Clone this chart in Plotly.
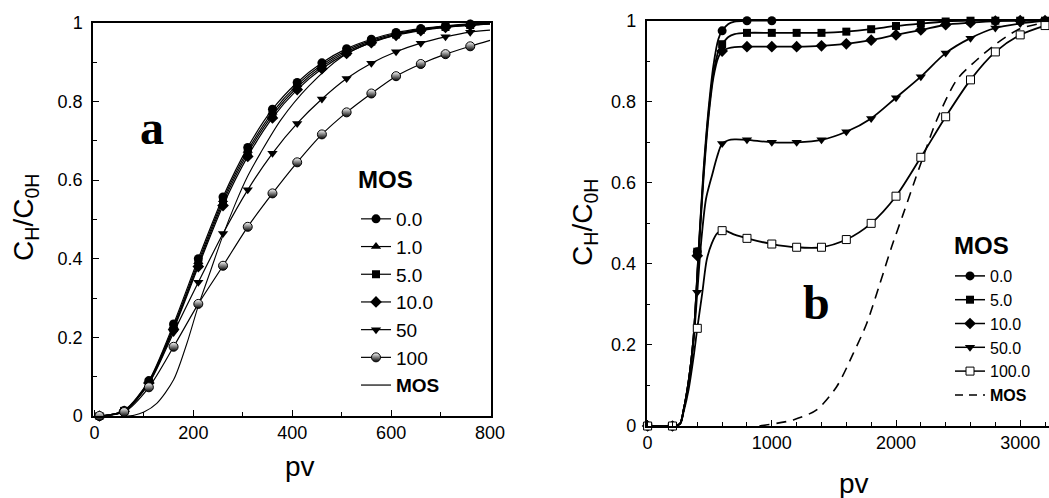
import plotly.graph_objects as go

# ---------------- Panel a data ----------------
pv_a = [10, 60, 110, 160, 210, 260, 310, 360, 410, 460, 510, 560, 610, 660, 710, 760]
mos0_a = [0, 0.014, 0.090, 0.234, 0.400, 0.557, 0.683, 0.780, 0.848, 0.898, 0.934, 0.958, 0.975, 0.985, 0.992, 0.997]
mos1_a = [0, 0.013, 0.088, 0.228, 0.392, 0.550, 0.675, 0.772, 0.842, 0.893, 0.930, 0.955, 0.972, 0.983, 0.990, 0.995]
mos5_a = [0, 0.013, 0.086, 0.224, 0.386, 0.543, 0.668, 0.765, 0.836, 0.888, 0.926, 0.952, 0.970, 0.982, 0.989, 0.994]
mos10_a = [0, 0.012, 0.084, 0.220, 0.380, 0.535, 0.660, 0.758, 0.830, 0.883, 0.922, 0.949, 0.968, 0.980, 0.988, 0.993]
mos50_a = [0, 0.012, 0.082, 0.212, 0.340, 0.464, 0.575, 0.668, 0.744, 0.806, 0.858, 0.897, 0.926, 0.948, 0.964, 0.976]
mos100_a = [0, 0.010, 0.073, 0.176, 0.285, 0.382, 0.481, 0.566, 0.645, 0.716, 0.772, 0.820, 0.864, 0.895, 0.920, 0.940]
# fitted-curve end values at pv = 800
pv_a_end = 800
end_a = {"0.0": 0.999, "1.0": 0.998, "5.0": 0.997, "10.0": 0.996, "50": 0.981, "100": 0.955}
# MOS-only curve, panel a
mosline_a_x = [60, 80, 100, 126, 160, 187, 210, 235, 260, 285, 310, 336, 377, 433, 500, 560, 620, 700, 800]
mosline_a_y = [0, 0.002, 0.010, 0.032, 0.092, 0.185, 0.280, 0.370, 0.460, 0.540, 0.610, 0.669, 0.753, 0.838, 0.913, 0.950, 0.972, 0.990, 0.998]

# ---------------- Panel b data ----------------
pv_b = [0, 200, 400, 600, 800, 1000, 1200, 1400, 1600, 1800, 2000, 2200, 2400, 2600, 2800, 3000, 3200]
pv_b0 = [0, 200, 400, 600, 800, 1000]
mos0_b = [0, 0, 0.43, 0.975, 1.0, 1.0]
mos5_b = [0, 0, 0.43, 0.942, 0.970, 0.970, 0.970, 0.970, 0.973, 0.979, 0.987, 0.993, 0.998, 1.0, 1.0, 1.0, 1.0]
mos10_b = [0, 0, 0.42, 0.925, 0.936, 0.936, 0.936, 0.938, 0.943, 0.952, 0.965, 0.977, 0.990, 0.995, 0.999, 1.0, 1.0]
mos50_b = [0, 0, 0.33, 0.697, 0.706, 0.700, 0.700, 0.706, 0.726, 0.759, 0.810, 0.862, 0.920, 0.957, 0.982, 0.993, 1.0]
mos100_b = [0, 0, 0.241, 0.482, 0.463, 0.449, 0.441, 0.441, 0.460, 0.500, 0.567, 0.663, 0.763, 0.854, 0.923, 0.965, 0.988]

# fitted curves in the breakthrough region
rise_x = [0, 200, 260, 290, 330, 370, 410, 450, 490, 530, 570, 600, 650, 700, 800]
fit0_b = [0, 0, 0.005, 0.04, 0.11, 0.22, 0.43, 0.63, 0.78, 0.89, 0.955, 0.975, 0.992, 0.998, 1.0]
fit5_b = [0, 0, 0.005, 0.04, 0.11, 0.22, 0.43, 0.62, 0.77, 0.87, 0.925, 0.942, 0.960, 0.967, 0.970]
fit10_b = [0, 0, 0.005, 0.04, 0.11, 0.22, 0.42, 0.61, 0.76, 0.86, 0.910, 0.925, 0.932, 0.935, 0.936]
rise50_x = [0, 200, 260, 290, 330, 370, 400, 430, 470, 520, 560, 600, 650, 700, 800]
fit50_b = [0, 0, 0.005, 0.04, 0.11, 0.21, 0.33, 0.45, 0.56, 0.62, 0.665, 0.697, 0.705, 0.707, 0.706]
rise100_x = [0, 200, 260, 290, 330, 370, 400, 440, 476, 516, 560, 607, 650, 700, 800]
fit100_b = [0, 0, 0.005, 0.035, 0.09, 0.17, 0.241, 0.328, 0.41, 0.45, 0.475, 0.483, 0.479, 0.472, 0.463]
# MOS-only dashed curve, panel b
mosline_b_x = [900, 1173, 1361, 1522, 1656, 1764, 1871, 1965, 2059, 2153, 2220, 2328, 2489, 2650, 2811, 2998, 3200]
mosline_b_y = [0, 0.015, 0.040, 0.097, 0.179, 0.253, 0.352, 0.442, 0.524, 0.607, 0.665, 0.755, 0.854, 0.903, 0.944, 0.980, 0.995]

W, H = 1049, 498
FONT = "Liberation Sans, Arial, sans-serif"
SERIF = "Liberation Serif, Times New Roman, serif"

fig = go.Figure()

def mk(symbol, size, half=False, open_=False):
    if half:
        return dict(symbol="circle", size=size, color="white",
                    gradient=dict(type="vertical", color="black"),
                    line=dict(color="black", width=1))
    if open_:
        return dict(symbol="square", size=size, color="white", line=dict(color="black", width=1))
    return dict(symbol=symbol, size=size, color="black", line=dict(color="black", width=0))

# ---- panel a ----
series_a = [
    ("0.0", mos0_a, mk("circle", 9)),
    ("1.0", mos1_a, mk("triangle-up", 9)),
    ("5.0", mos5_a, mk("square", 8)),
    ("10.0", mos10_a, mk("diamond", 9)),
    ("50", mos50_a, mk("triangle-down", 9)),
    ("100", mos100_a, mk("circle", 9, half=True)),
]
for name, ys, m in series_a:
    fig.add_trace(go.Scatter(x=pv_a + [pv_a_end], y=ys + [end_a[name]], mode="lines",
                             line=dict(color="black", width=1.2, shape="spline", smoothing=0.8),
                             showlegend=False, xaxis="x", yaxis="y", hoverinfo="skip"))
fig.add_trace(go.Scatter(x=mosline_a_x, y=mosline_a_y, mode="lines",
                         line=dict(color="black", width=1.1, shape="spline", smoothing=0.8),
                         showlegend=False, xaxis="x", yaxis="y"))
for name, ys, m in series_a:
    fig.add_trace(go.Scatter(x=pv_a, y=ys, mode="markers", marker=m, cliponaxis=False,
                             showlegend=False, xaxis="x", yaxis="y"))
# legend proxies panel a
for name, ys, m in series_a:
    fig.add_trace(go.Scatter(x=[None], y=[None], mode="lines+markers", name=name, marker=m,
                             line=dict(color="black", width=1.2), legend="legend",
                             xaxis="x", yaxis="y"))
fig.add_trace(go.Scatter(x=[None], y=[None], mode="lines", name="<b>MOS</b>",
                         line=dict(color="black", width=1.2), legend="legend", xaxis="x", yaxis="y"))

# ---- panel b ----
series_b = [
    ("0.0", pv_b0, mos0_b, rise_x, fit0_b, mk("circle", 9)),
    ("5.0", pv_b, mos5_b, rise_x, fit5_b, mk("square", 8)),
    ("10.0", pv_b, mos10_b, rise_x, fit10_b, mk("diamond", 9)),
    ("50.0", pv_b, mos50_b, rise50_x, fit50_b, mk("triangle-down", 9)),
    ("100.0", pv_b, mos100_b, rise100_x, fit100_b, mk("square", 8, open_=True)),
]
for name, xs, ys, fx, fy, m in series_b:
    cx = fx + [x for x in xs if x > fx[-1]]
    cy = fy + [y for x, y in zip(xs, ys) if x > fx[-1]]
    fig.add_trace(go.Scatter(x=cx, y=cy, mode="lines",
                             line=dict(color="black", width=1.8, shape="spline", smoothing=0.8),
                             showlegend=False, xaxis="x2", yaxis="y2", hoverinfo="skip"))
fig.add_trace(go.Scatter(x=mosline_b_x, y=mosline_b_y, mode="lines",
                         line=dict(color="black", width=1.6, dash="10px,7px", shape="spline", smoothing=0.8),
                         showlegend=False, xaxis="x2", yaxis="y2"))
for name, xs, ys, fx, fy, m in series_b:
    fig.add_trace(go.Scatter(x=xs, y=ys, mode="markers", marker=m, cliponaxis=False,
                             showlegend=False, xaxis="x2", yaxis="y2"))
for name, xs, ys, fx, fy, m in series_b:
    fig.add_trace(go.Scatter(x=[None], y=[None], mode="lines+markers", name=name, marker=m,
                             line=dict(color="black", width=1.5), legend="legend2",
                             xaxis="x2", yaxis="y2"))
fig.add_trace(go.Scatter(x=[None], y=[None], mode="lines", name="<b>MOS</b>",
                         line=dict(color="black", width=1.5, dash="8px,6px"), legend="legend2",
                         xaxis="x2", yaxis="y2"))

axis_common = dict(showgrid=False, zeroline=False, showline=True, linecolor="black", linewidth=1.5,
                   ticks="inside", ticklen=6, tickwidth=1.2, tickcolor="black", automargin=False,
                   tickfont=dict(family=FONT, size=18, color="black"))

def ann(text, x, y, size, family=FONT, angle=0):
    return dict(text=text, x=x / W, y=1 - y / H, xref="paper", yref="paper", xanchor="center",
                yanchor="middle", showarrow=False, textangle=angle, font=dict(family=family, size=size))

fig.update_layout(
    width=W, height=H, margin=dict(l=0, r=0, t=0, b=0, pad=0, autoexpand=False),
    paper_bgcolor="white", plot_bgcolor="white",
    font=dict(family=FONT, color="black"),
    xaxis=dict(domain=[93 / W, 491 / W], range=[-3, 802], tick0=0, dtick=200,
               minor=dict(ticks="inside", dtick=100, tick0=0, ticklen=4, tickwidth=1, tickcolor="black"),
               mirror=True, anchor="y", **axis_common),
    yaxis=dict(domain=[1 - 416 / H, 1 - 22.7 / H], range=[0, 1], tick0=0, dtick=0.2,
               minor=dict(ticks="inside", dtick=0.1, tick0=0, ticklen=4, tickwidth=1, tickcolor="black"),
               mirror=True, anchor="x", ticklabelstandoff=5, **axis_common),
    xaxis2=dict(domain=[646.5 / W, 1.0], range=[-9, 3232], tick0=0, dtick=1000,
                minor=dict(ticks="inside", dtick=200, tick0=0, ticklen=4, tickwidth=1, tickcolor="black"),
                mirror=True, anchor="y2", **axis_common),
    yaxis2=dict(domain=[1 - 426 / H, 1 - 20.7 / H], range=[0, 1], tick0=0, dtick=0.2,
                minor=dict(ticks="inside", dtick=0.1, tick0=0, ticklen=4, tickwidth=1, tickcolor="black"),
                mirror=False, anchor="x2", ticklabelstandoff=5, **axis_common),
    legend=dict(x=356 / W, y=1 - 200 / H, xanchor="left", yanchor="top",
                bgcolor="rgba(0,0,0,0)", borderwidth=0,
                font=dict(family=FONT, size=19, color="black"), tracegroupgap=0),
    legend2=dict(x=950 / W, y=1 - 259 / H, xanchor="left", yanchor="top",
                 bgcolor="rgba(0,0,0,0)", borderwidth=0,
                 font=dict(family=FONT, size=16, color="black"), tracegroupgap=0),
    annotations=[
        ann("C<sub>H</sub>/C<sub>0H</sub>", 25, 218, 28, angle=-90),
        ann("C<sub>H</sub>/C<sub>0H</sub>", 584, 223, 28, angle=-90),
        ann("pv", 300, 466, 28),
        ann("pv", 854, 483, 28),
        ann("<b>a</b>", 152, 127, 48, family=SERIF),
        ann("<b>b</b>", 816, 302, 48, family=SERIF),
        ann("<b>MOS</b>", 385, 179, 24),
        ann("<b>MOS</b>", 981, 245, 24),
    ],
)

fig.write_html("out.html", config={"displayModeBar": False},
               post_script="document.body.style.margin='0px';document.body.style.overflow='hidden';")
